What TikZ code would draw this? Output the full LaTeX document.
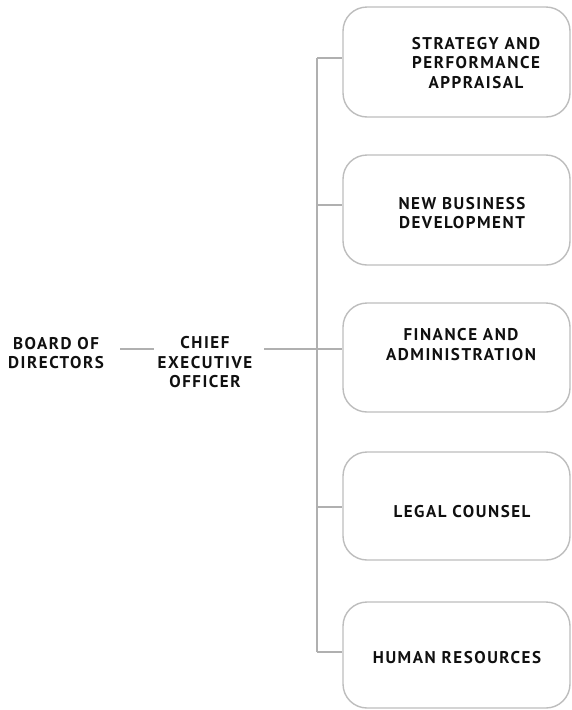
\documentclass[tikz,border=0pt]{standalone}
\usepackage{fontspec}
\newfontfamily\lblfont[LetterSpace=9]{PT Sans}
\definecolor{linegray}{HTML}{B0B0B0}
\definecolor{boxgray}{HTML}{BDBDBD}
\definecolor{txt}{HTML}{101010}
\begin{document}
\begin{tikzpicture}[x=1pt,y=-1pt,
  box/.style={draw=boxgray, line width=1.4pt, rounded corners=24pt, minimum width=227pt, inner sep=0pt},
  lbl/.style={font=\lblfont\bfseries\fontsize{17}{19.5}\selectfont, align=center, text=txt, inner sep=0pt},
  conn/.style={draw=linegray, line width=2pt}]
\useasboundingbox (0,0) rectangle (571,710);
\node[box, minimum height=110pt] (b1) at (456.5,62) {};
\node[box, minimum height=110pt] (b2) at (456.5,210) {};
\node[box, minimum height=109pt] (b3) at (456.5,357.5) {};
\node[box, minimum height=108pt] (b4) at (456.5,506) {};
\node[box, minimum height=106pt] (b5) at (456.5,655) {};
\node[lbl] (t1) at (476,63) {STRATEGY AND\\PERFORMANCE\\APPRAISAL};
\node[lbl] (t2) at (462,213) {NEW BUSINESS\\DEVELOPMENT};
\node[lbl] (t3) at (461,344.5) {FINANCE AND\\ADMINISTRATION};
\node[lbl] (t4) at (462,512) {LEGAL COUNSEL};
\node[lbl] (t5) at (457,658) {HUMAN RESOURCES};
\node[lbl] (bd) at (56,353) {BOARD OF\\DIRECTORS};
\node[lbl] (ceo) at (205,362.5) {CHIEF\\EXECUTIVE\\OFFICER};
\coordinate (r1) at (317,58);
\coordinate (r2) at (317,205);
\coordinate (r3) at (317,349);
\coordinate (r4) at (317,507);
\coordinate (r5) at (317,652);
\coordinate (c1) at (120,349);
\coordinate (c2) at (154,349);
\coordinate (c3) at (264,349);
\draw[conn] (r1) -- (r5);
\foreach \i in {1,...,5} { \draw[conn] (r\i) -- (r\i -| b\i.west); }
\draw[conn] (c1) -- (c2);
\draw[conn] (c3) -- (r3);
\end{tikzpicture}
\end{document}
